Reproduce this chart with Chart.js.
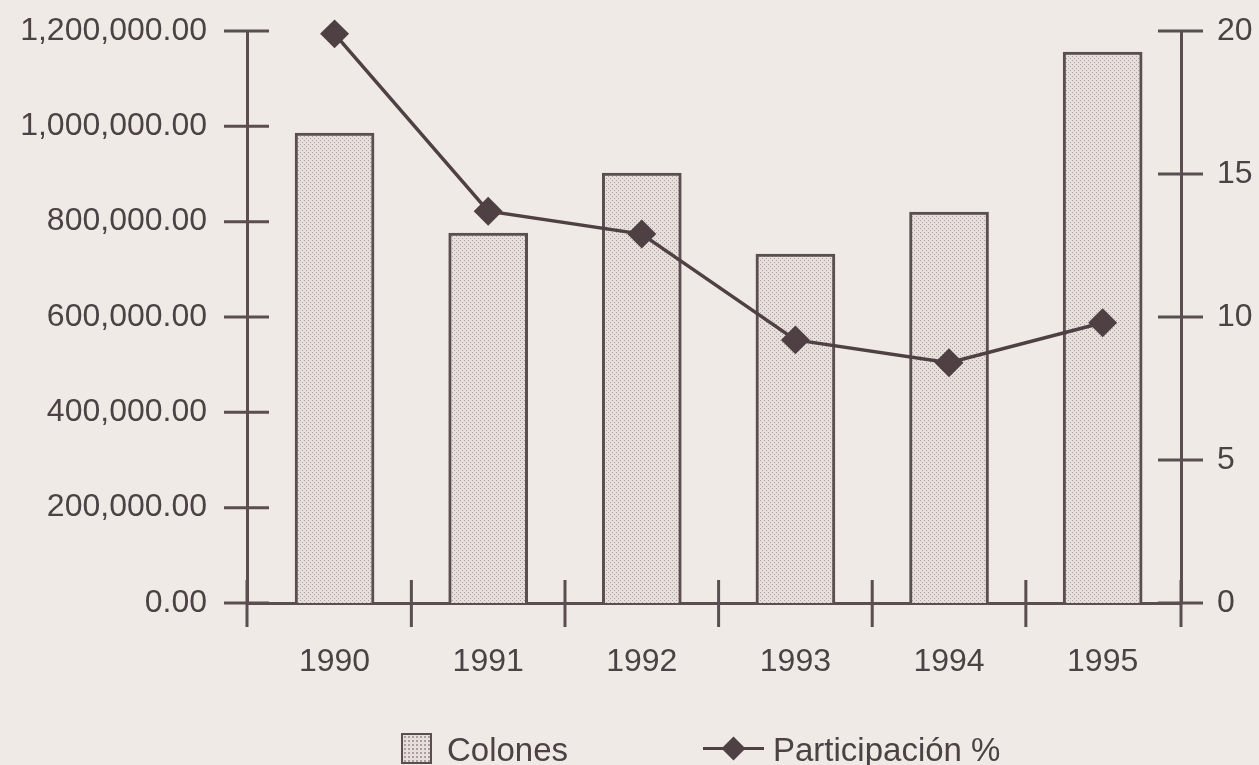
<!DOCTYPE html>
<html>
<head>
<meta charset="utf-8">
<script src="https://cdn.jsdelivr.net/npm/chart.js@4"></script>
<style>
body { margin: 0; background: #efeae5; }
#wrap { position: relative; width: 1259px; height: 765px; }
#legend { position: absolute; left: 0; top: 0; font-family: "Liberation Sans", Arial, sans-serif; font-size: 33px; line-height: 1; color: #4a4244; }
#legend span { position: absolute; white-space: nowrap; }
.box { left: 401px; top: 733px; width: 27px; height: 27px; border: 2px solid #5a4e50;
  background-color: #e6dfdc; background-image: radial-gradient(#a9a09e 0.8px, transparent 1px); background-size: 4px 4px; }
.seg { left: 703px; top: 747px; width: 61px; height: 3px; background: #4e4043; }
.dia { left: 725px; top: 740px; width: 17px; height: 17px; background: #4e4043; transform: rotate(45deg); }
</style>
</head>
<body>
<div id="wrap">
<canvas id="chart" width="1259" height="765"></canvas>
<div id="legend">
  <span class="box"></span><span style="left:447px; top:733px">Colones</span>
  <span class="seg"></span><span class="dia"></span><span style="left:773px; top:733px">Participación %</span>
</div>
</div>
<script>
// values
var years = [1990, 1991, 1992, 1993, 1994, 1995];
var colones = [986000, 776000, 902000, 732000, 820000, 1156000];
var participacion = [19.9, 13.7, 12.9, 9.2, 8.4, 9.8];

var ink = '#5a4e50';
var lineInk = '#4e4043';
var textInk = '#4a4244';
var font = { family: '"Liberation Sans", Arial, sans-serif', size: 32 };

function stipple() {
	var c = document.createElement('canvas');
	c.width = 4; c.height = 4;
	var g = c.getContext('2d');
	g.fillStyle = '#e6dfdc';
	g.fillRect(0, 0, 4, 4);
	g.fillStyle = '#aaa09e';
	g.fillRect(0, 0, 1, 1);
	g.fillRect(2, 2, 1, 1);
	return g.createPattern(c, 'repeat');
}

// fixed axis boxes so the plot sits where the printed one does
function fixWidth(w) {
	return function(s) { s.width = w; s.paddingTop = 0; s.paddingBottom = 0; };
}

// tick marks that cross the axis lines, like the printed chart
var crossTicks = {
	id: 'crossTicks',
	beforeDatasetsDraw: function(chart) {
		var ctx = chart.ctx, a = chart.chartArea;
		var x = chart.scales.x, y = chart.scales.y, y1 = chart.scales.y1;
		ctx.save();
		ctx.strokeStyle = ink;
		ctx.lineWidth = 3;
		ctx.beginPath();
		y.ticks.forEach(function(t) {
			var p = y.getPixelForValue(t.value);
			ctx.moveTo(a.left - 23, p); ctx.lineTo(a.left + 22, p);
		});
		y1.ticks.forEach(function(t) {
			var p = y1.getPixelForValue(t.value);
			ctx.moveTo(a.right - 23, p); ctx.lineTo(a.right + 22, p);
		});
		var edges = [x.min];
		years.slice(0, -1).forEach(function(v) { edges.push(v + 0.5); });
		edges.push(x.max);
		edges.forEach(function(v) {
			var p = x.getPixelForValue(v);
			ctx.moveTo(p, a.bottom - 23); ctx.lineTo(p, a.bottom + 24);
		});
		ctx.stroke();
		ctx.restore();
	}
};

var ctx = document.getElementById('chart').getContext('2d');
var myChart = new Chart(ctx, {
	type: 'bar',
	data: {
		labels: years,
		datasets: [{
			type: 'line',
			label: 'Participación %',
			data: participacion,
			yAxisID: 'y1',
			order: 0,
			clip: false,
			borderColor: lineInk,
			borderWidth: 3.5,
			pointStyle: 'rectRot',
			pointRadius: 12,
			pointBackgroundColor: lineInk,
			pointBorderColor: lineInk,
			tension: 0
		}, {
			label: 'Colones',
			data: colones,
			yAxisID: 'y',
			order: 1,
			backgroundColor: stipple(),
			borderColor: ink,
			borderWidth: 3,
			barThickness: 79
		}]
	},
	options: {
		responsive: false,
		animation: false,
		layout: { padding: { top: 31, left: 0, right: 0, bottom: 0 } },
		plugins: { legend: { display: false }, tooltip: { enabled: false } },
		scales: {
			x: {
				type: 'linear',
				offset: false,
				min: 1989.43,
				max: 1995.51,
				afterBuildTicks: function(s) { s.ticks = years.map(function(v) { return { value: v }; }); },
				afterFit: function(s) { s.height = 162; },
				grid: { display: false, drawTicks: false, offset: false },
				border: { display: true, color: ink, width: 3 },
				ticks: { color: textInk, font: font, padding: 40, callback: function(v) { return String(v); } }
			},
			y: {
				position: 'left',
				min: 0,
				max: 1200000,
				afterFit: fixWidth(247),
				grid: { display: false, drawTicks: false },
				border: { display: true, color: ink, width: 3 },
				ticks: {
					stepSize: 200000, color: textInk, font: font, padding: 40,
					callback: function(v) { return v.toLocaleString('en-US', { minimumFractionDigits: 2, maximumFractionDigits: 2 }); }
				}
			},
			y1: {
				position: 'right',
				min: 0,
				max: 20,
				afterFit: fixWidth(78),
				grid: { display: false, drawTicks: false },
				border: { display: true, color: ink, width: 3 },
				ticks: { stepSize: 5, color: textInk, font: font, padding: 36 }
			}
		}
	},
	plugins: [crossTicks]
});
</script>
</body>
</html>
